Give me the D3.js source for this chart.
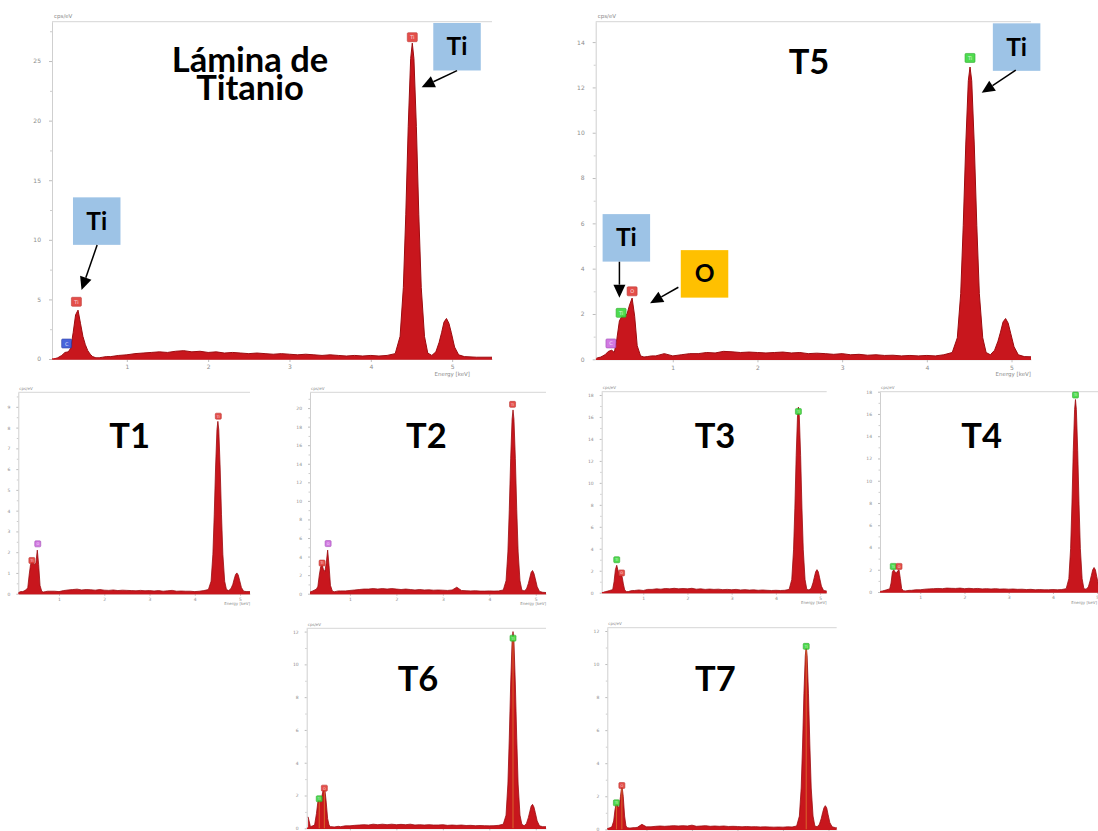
<!DOCTYPE html>
<html>
<head>
<meta charset="utf-8">
<script src="https://cdn.jsdelivr.net/npm/d3@7"></script>
<style>
  html, body { margin: 0; padding: 0; background: #ffffff; }
  svg { display: block; }
</style>
</head>
<body>
<svg id="fig" width="1098" height="831"></svg>
<script>
// ---- Shared energy axis of every EDS spectrum (keV) ----
const energyKeV = [
  0.10, 0.15, 0.20, 0.24, 0.28, 0.31, 0.34, 0.37, 0.40, 0.43,
  0.46, 0.49, 0.52, 0.55, 0.58, 0.62, 0.66, 0.70, 0.75, 0.80,
  0.90, 1.00, 1.10, 1.20, 1.30, 1.40, 1.50, 1.60, 1.70, 1.80,
  1.90, 2.00, 2.10, 2.20, 2.30, 2.40, 2.50, 2.60, 2.70, 2.80,
  2.90, 3.00, 3.10, 3.20, 3.30, 3.40, 3.50, 3.60, 3.70, 3.80,
  3.90, 4.00, 4.10, 4.20, 4.30, 4.36, 4.40, 4.43, 4.46, 4.49,
  4.51, 4.53, 4.56, 4.59, 4.62, 4.66, 4.70, 4.75, 4.80, 4.84,
  4.87, 4.90, 4.93, 4.96, 4.99, 5.03, 5.08, 5.15, 5.30, 5.50
];

// ---- Counts (cps/eV) for each sample, one value per energy above ----
const laminaTi = [
  0.00, 0.10, 0.30, 0.55, 0.60, 0.90, 2.20, 3.70, 4.10, 3.00,
  1.90, 1.20, 0.70, 0.40, 0.20, 0.10, 0.10, 0.15, 0.20, 0.20,
  0.30, 0.35, 0.45, 0.50, 0.55, 0.60, 0.55, 0.65, 0.70, 0.60,
  0.65, 0.55, 0.60, 0.50, 0.55, 0.50, 0.45, 0.50, 0.45, 0.40,
  0.45, 0.40, 0.35, 0.40, 0.35, 0.30, 0.35, 0.30, 0.25, 0.30,
  0.25, 0.30, 0.25, 0.30, 0.45, 1.90, 6.00, 12.1, 19.5, 25.2,
  26.5, 25.2, 19.5, 12.1, 6.00, 1.90, 0.50, 0.30, 0.60, 1.40,
  2.20, 3.10, 3.40, 3.00, 2.20, 1.00, 0.35, 0.20, 0.15, 0.15
];
const t5 = [
  0.05, 0.10, 0.20, 0.35, 0.40, 0.30, 0.90, 1.70, 1.90, 1.90,
  2.00, 2.40, 2.70, 1.90, 0.60, 0.15, 0.10, 0.12, 0.15, 0.15,
  0.25, 0.15, 0.20, 0.25, 0.25, 0.30, 0.28, 0.35, 0.33, 0.30,
  0.32, 0.30, 0.28, 0.30, 0.32, 0.28, 0.30, 0.25, 0.27, 0.25,
  0.22, 0.25, 0.20, 0.22, 0.18, 0.20, 0.17, 0.18, 0.15, 0.17,
  0.15, 0.17, 0.15, 0.20, 0.30, 0.95, 2.90, 5.90, 9.50, 12.3,
  12.9, 12.3, 9.50, 5.90, 2.90, 0.95, 0.30, 0.20, 0.40, 0.80,
  1.20, 1.65, 1.80, 1.60, 1.15, 0.55, 0.20, 0.12, 0.10, 0.10
];
const t1 = [
  0.05, 0.10, 0.10, 0.15, 0.20, 0.30, 0.90, 1.40, 1.60, 1.50,
  1.40, 1.50, 2.10, 1.40, 0.40, 0.10, 0.08, 0.10, 0.12, 0.12,
  0.12, 0.10, 0.15, 0.18, 0.20, 0.22, 0.18, 0.20, 0.19, 0.17,
  0.20, 0.17, 0.16, 0.18, 0.15, 0.17, 0.16, 0.15, 0.14, 0.16,
  0.14, 0.15, 0.13, 0.15, 0.12, 0.14, 0.16, 0.12, 0.13, 0.12,
  0.12, 0.10, 0.12, 0.15, 0.20, 0.60, 1.90, 3.80, 6.10, 7.90,
  8.30, 7.90, 6.10, 3.80, 1.90, 0.60, 0.20, 0.15, 0.25, 0.45,
  0.70, 0.92, 1.00, 0.90, 0.65, 0.30, 0.12, 0.10, 0.10, 0.10
];
const t2 = [
  0.00, 0.20, 0.30, 0.40, 0.50, 0.80, 2.00, 2.90, 3.10, 2.60,
  2.40, 3.30, 4.70, 3.00, 0.90, 0.30, 0.20, 0.25, 0.30, 0.30,
  0.30, 0.35, 0.40, 0.45, 0.50, 0.50, 0.55, 0.50, 0.55, 0.50,
  0.55, 0.50, 0.45, 0.50, 0.45, 0.40, 0.45, 0.40, 0.42, 0.38,
  0.40, 0.38, 0.35, 0.40, 0.70, 0.35, 0.32, 0.30, 0.32, 0.28,
  0.28, 0.30, 0.28, 0.30, 0.40, 1.40, 4.50, 9.10, 14.6, 18.8,
  19.8, 18.8, 14.6, 9.10, 4.50, 1.40, 0.40, 0.30, 0.50, 1.10,
  1.70, 2.30, 2.50, 2.20, 1.60, 0.75, 0.25, 0.15, 0.10, 0.10
];
const t3 = [
  0.05, 0.10, 0.15, 0.20, 0.25, 0.30, 1.00, 2.10, 2.50, 2.00,
  1.50, 1.60, 1.50, 0.80, 0.25, 0.10, 0.10, 0.15, 0.20, 0.20,
  0.25, 0.20, 0.30, 0.30, 0.35, 0.32, 0.38, 0.35, 0.40, 0.35,
  0.38, 0.35, 0.40, 0.32, 0.35, 0.30, 0.33, 0.30, 0.32, 0.28,
  0.30, 0.27, 0.30, 0.25, 0.28, 0.24, 0.26, 0.22, 0.25, 0.22,
  0.20, 0.22, 0.20, 0.22, 0.30, 1.20, 3.90, 7.70, 12.5, 16.1,
  16.9, 16.1, 12.5, 7.70, 3.90, 1.20, 0.30, 0.25, 0.40, 0.90,
  1.40, 1.90, 2.10, 1.90, 1.35, 0.60, 0.20, 0.15, 0.10, 0.10
];
const t4 = [
  0.05, 0.10, 0.15, 0.20, 0.25, 0.30, 0.80, 1.80, 2.00, 1.80,
  1.70, 1.90, 2.00, 1.20, 0.30, 0.12, 0.10, 0.12, 0.15, 0.15,
  0.20, 0.20, 0.25, 0.28, 0.30, 0.32, 0.30, 0.35, 0.33, 0.32,
  0.35, 0.30, 0.33, 0.30, 0.32, 0.28, 0.30, 0.27, 0.30, 0.26,
  0.28, 0.25, 0.27, 0.24, 0.25, 0.22, 0.24, 0.20, 0.22, 0.20,
  0.20, 0.22, 0.20, 0.22, 0.30, 1.20, 3.90, 7.90, 12.7, 16.4,
  17.3, 16.4, 12.7, 7.90, 3.90, 1.20, 0.30, 0.25, 0.45, 1.00,
  1.50, 2.00, 2.20, 2.00, 1.40, 0.65, 0.20, 0.15, 0.10, 0.10
];
const t6 = [
  0.70, 0.10, 0.15, 0.20, 0.90, 1.60, 1.90, 1.80, 2.00, 2.40,
  2.40, 1.60, 0.60, 0.20, 0.10, 0.10, 0.08, 0.10, 0.12, 0.10,
  0.15, 0.15, 0.18, 0.20, 0.22, 0.20, 0.25, 0.22, 0.25, 0.22,
  0.25, 0.22, 0.24, 0.22, 0.25, 0.20, 0.22, 0.20, 0.22, 0.20,
  0.20, 0.22, 0.18, 0.20, 0.18, 0.20, 0.17, 0.18, 0.16, 0.17,
  0.16, 0.15, 0.16, 0.18, 0.25, 0.80, 2.70, 5.50, 8.80, 11.4,
  12.0, 11.4, 8.80, 5.50, 2.70, 0.80, 0.25, 0.15, 0.30, 0.65,
  1.00, 1.35, 1.46, 1.30, 0.95, 0.45, 0.15, 0.10, 0.10, 0.10
];
const t7 = [
  0.05, 0.05, 0.10, 0.15, 0.50, 1.20, 1.60, 1.40, 1.30, 2.00,
  2.70, 2.00, 0.80, 0.20, 0.10, 0.08, 0.08, 0.10, 0.10, 0.12,
  0.30, 0.15, 0.15, 0.18, 0.20, 0.18, 0.20, 0.22, 0.20, 0.22,
  0.20, 0.25, 0.18, 0.20, 0.22, 0.18, 0.20, 0.18, 0.20, 0.17,
  0.18, 0.17, 0.15, 0.17, 0.15, 0.16, 0.14, 0.15, 0.14, 0.13,
  0.14, 0.13, 0.15, 0.14, 0.20, 0.80, 2.50, 5.10, 8.20, 10.5,
  11.1, 10.5, 8.20, 5.10, 2.50, 0.80, 0.20, 0.15, 0.30, 0.65,
  1.00, 1.30, 1.43, 1.30, 0.90, 0.40, 0.15, 0.10, 0.10, 0.10
];

// ---- Element identification markers: [element, keV, cps/eV, tone] ----
const laminaMarks = [["C", 0.26, 1.3, "blue"], ["Ti", 0.38, 4.8, "red"], ["Ti", 4.51, 27.0, "red"]];
const t5Marks = [["C", 0.27, 0.7, "magenta"], ["Ti", 0.39, 2.05, "green"], ["O", 0.52, 3.0, "red"], ["Ti", 4.51, 13.3, "green"]];
const t1Marks = [["Ti", 0.40, 1.6, "red"], ["O", 0.53, 2.4, "magenta"], ["Ti", 4.52, 8.55, "red"]];
const t2Marks = [["Ti", 0.40, 3.3, "red"], ["O", 0.53, 5.4, "magenta"], ["Ti", 4.50, 20.4, "red"]];
const t3Marks = [["Ti", 0.40, 3.0, "green"], ["O", 0.51, 1.8, "red"], ["Ti", 4.51, 16.5, "green"]];
const t4Marks = [["Ti", 0.39, 2.3, "green"], ["O", 0.52, 2.3, "red"], ["Ti", 4.51, 17.7, "green"]];
const t6Marks = [["Ti", 0.34, 1.8, "green"], ["O", 0.45, 2.45, "red"], ["Ti", 4.51, 11.6, "green"]];
const t7Marks = [["Ti", 0.34, 1.6, "green"], ["O", 0.46, 2.65, "red"], ["Ti", 4.51, 11.07, "green"]];

// ---- Y tick steps and x tick labels ----
const xTickLabels = [1, 2, 3, 4, 5];
const yTickSteps = { lamina: 5, t5: 2, t1: 1, t2: 2, t3: 2, t4: 2, t6: 2, t7: 2 };

// ---- Callouts (label boxes with arrows), anchored in data units ----
const callouts = [
  { panel: "lamina", text: "Ti", tone: "blue",   box: [5.06, 26.2],  from: [5.06, 24.2], to: [4.625, 22.8] },
  { panel: "lamina", text: "Ti", tone: "blue",   box: [0.63, 11.57], from: [0.635, 9.56], to: [0.443, 5.78] },
  { panel: "t5",     text: "Ti", tone: "blue",   box: [5.06, 13.78], from: [5.05, 12.76], to: [4.648, 11.76] },
  { panel: "t5",     text: "Ti", tone: "blue",   box: [0.452, 5.36], from: [0.37, 4.305], to: [0.37, 2.72] },
  { panel: "t5",     text: "O",  tone: "yellow", box: [1.375, 3.77], from: [1.066, 3.18], to: [0.732, 2.47] }
];

// ---- Panel layout (pixels); the bottom row has its energy axis below the page edge ----
const layout = [
  { id: "lamina", counts: laminaTi, marks: laminaMarks, title: ["Lámina de", "Titanio"], big: true,
    left: 52, right: 492, top: 21.7, bottom: 359, xMin: 0.08, xMax: 5.49, yMax: 28.3,
    titleX: 250, titleY: 71.7, unitEnd: 470 },
  { id: "t5", counts: t5, marks: t5Marks, title: ["T5"], big: true,
    left: 595.7, right: 1031, top: 21.7, bottom: 359.3, xMin: 0.09, xMax: 5.23, yMax: 14.9,
    titleX: 809, titleY: 74, unitEnd: 1031 },
  { id: "t1", counts: t1, marks: t1Marks, title: ["T1"],
    left: 18.3, right: 250, top: 392.3, bottom: 593.7, xMin: 0.10, xMax: 5.22, yMax: 9.7,
    titleX: 129.7, titleY: 448.3, unitEnd: 250 },
  { id: "t2", counts: t2, marks: t2Marks, title: ["T2"],
    left: 310, right: 546, top: 392.3, bottom: 593.7, xMin: 0.14, xMax: 5.22, yMax: 21.7,
    titleX: 426.3, titleY: 448.3, unitEnd: 546 },
  { id: "t3", counts: t3, marks: t3Marks, title: ["T3"],
    left: 601.7, right: 826.7, top: 391.7, bottom: 592.7, xMin: 0.06, xMax: 5.15, yMax: 18.3,
    titleX: 715, titleY: 448.3, unitEnd: 826.7 },
  { id: "t4", counts: t4, marks: t4Marks, title: ["T4"],
    left: 880, right: 1106, top: 391.7, bottom: 592, xMin: 0.09, xMax: 5.20, yMax: 18.0,
    titleX: 981.7, titleY: 448.3, unitEnd: 1097 },
  { id: "t6", counts: t6, marks: t6Marks, title: ["T6"], klm: true, noXLabels: true,
    left: 306.7, right: 546, top: 628.3, bottom: 828.3, xMin: 0.07, xMax: 5.22, yMax: 12.2,
    titleX: 418, titleY: 691 },
  { id: "t7", counts: t7, marks: t7Marks, title: ["T7"], klm: true, noXLabels: true,
    left: 607.3, right: 836.7, top: 627.7, bottom: 829.3, xMin: 0.14, xMax: 5.18, yMax: 12.2,
    titleX: 715.3, titleY: 691 }
];

const toneFill = { red: "#e2403b", green: "#3fd83f", blue: "#3a57d8", magenta: "#cf6ee0" };
const toneEdge = { red: "#b92a26", green: "#25a525", blue: "#2536a0", magenta: "#9b43b0" };
const boxFill = { blue: "#9dc3e6", yellow: "#ffc000" };
const SPEC_FILL = "#c8161d";
const SPEC_EDGE = "#9c0c10";
const TITLE_FONT = "Lato, 'Open Sans', 'DejaVu Sans', sans-serif";
const AXIS_FONT = "'DejaVu Sans', sans-serif";

const svg = d3.select("#fig");
svg.append("rect").attr("width", 1098).attr("height", 831).attr("fill", "#ffffff");
const defs = svg.append("defs");
const scales = {};

layout.forEach(cfg => {
  const x = d3.scaleLinear().domain([cfg.xMin, cfg.xMax]).range([cfg.left, cfg.right]);
  const y = d3.scaleLinear().domain([0, cfg.yMax]).range([cfg.bottom, cfg.top]);
  scales[cfg.id] = { x, y };
  const g = svg.append("g").attr("class", "panel-" + cfg.id);
  const fs = cfg.big ? 6 : 4.5;
  const step = yTickSteps[cfg.id];

  const clipId = "clip-" + cfg.id;
  defs.append("clipPath").attr("id", clipId)
    .append("rect")
    .attr("x", cfg.left).attr("y", cfg.top - 3)
    .attr("width", cfg.right - cfg.left).attr("height", cfg.bottom - cfg.top + 4);

  // frame line along the top of the plot area
  g.append("line")
    .attr("x1", cfg.left).attr("x2", cfg.right)
    .attr("y1", cfg.top).attr("y2", cfg.top)
    .attr("stroke", "#d6d6d6").attr("stroke-width", 1);

  // y axis: major ticks with labels and minor ticks between them
  const majors = d3.range(0, cfg.yMax + 1e-9, step);
  const minors = d3.range(step / 2, cfg.yMax, step);
  const yAxisG = g.append("g").attr("transform", `translate(${cfg.left},0)`)
    .call(d3.axisLeft(y).tickValues(majors).tickSize(cfg.big ? 3 : 2).tickSizeOuter(0)
      .tickPadding(cfg.big ? 8 : 6).tickFormat(d3.format("d")));
  yAxisG.select(".domain").attr("stroke", "#cfcfcf");
  yAxisG.selectAll(".tick line").attr("stroke", "#bdbdbd");
  yAxisG.selectAll("text").attr("fill", "#8c8c8c").attr("font-size", fs).attr("font-family", AXIS_FONT);
  const yMinor = g.append("g").attr("transform", `translate(${cfg.left},0)`)
    .call(d3.axisLeft(y).tickValues(minors).tickSize(cfg.big ? 2 : 1.5).tickSizeOuter(0).tickFormat(""));
  yMinor.select(".domain").remove();
  yMinor.selectAll(".tick line").attr("stroke", "#cdcdcd");

  // x axis ticks (labels only where the axis lies inside the page)
  const xVals = xTickLabels.filter(v => v >= cfg.xMin && v <= cfg.xMax);
  const xAxisG = g.append("g").attr("transform", `translate(0,${cfg.bottom})`)
    .call(d3.axisBottom(x).tickValues(xVals).tickSize(cfg.big ? 3 : 2).tickSizeOuter(0)
      .tickPadding(cfg.big ? 3 : 2).tickFormat(cfg.noXLabels ? "" : d3.format("d")));
  xAxisG.select(".domain").attr("stroke", "#d0d0d0");
  xAxisG.selectAll(".tick line").attr("stroke", "#bdbdbd");
  xAxisG.selectAll("text").attr("fill", "#8c8c8c").attr("font-size", fs).attr("font-family", AXIS_FONT);

  // axis units
  g.append("text").attr("x", cfg.left + (cfg.big ? 2 : 1)).attr("y", cfg.top - (cfg.big ? 4 : 2.5))
    .attr("font-size", cfg.big ? 5.5 : 4).attr("fill", "#8c8c8c")
    .attr("font-family", AXIS_FONT).text("cps/eV");
  if (!cfg.noXLabels) {
    g.append("text").attr("x", cfg.unitEnd).attr("y", cfg.bottom + (cfg.big ? 17 : 11.5))
      .attr("text-anchor", "end")
      .attr("font-size", cfg.big ? 5.5 : 4).attr("fill", "#8c8c8c")
      .attr("font-family", AXIS_FONT).text("Energy [keV]");
  }

  // spectrum
  const pts = energyKeV.map((e, i) => [e, cfg.counts[i]]);
  const area = d3.area().x(d => x(d[0])).y0(y(0)).y1(d => y(d[1]));
  const line = d3.line().x(d => x(d[0])).y(d => y(d[1]));
  const spec = g.append("g").attr("clip-path", `url(#${clipId})`);
  spec.append("path").datum(pts).attr("d", area).attr("fill", SPEC_FILL);
  spec.append("path").datum(pts).attr("d", line)
    .attr("fill", "none").attr("stroke", SPEC_EDGE).attr("stroke-width", cfg.big ? 1 : 0.8)
    .attr("stroke-linejoin", "round");
  spec.append("line").attr("x1", cfg.left).attr("x2", cfg.right)
    .attr("y1", y(0)).attr("y2", y(0))
    .attr("stroke", SPEC_FILL).attr("stroke-width", 1.4);

  // KLM guide lines at identified peaks
  if (cfg.klm) {
    spec.selectAll("line.klm").data(cfg.marks).join("line").attr("class", "klm")
      .attr("x1", d => x(d[1])).attr("x2", d => x(d[1]))
      .attr("y1", y(0)).attr("y2", d => y(d[2]))
      .attr("stroke", "#e8a63a").attr("stroke-width", 0.8).attr("opacity", 0.7);
  }

  // element markers
  const mw = cfg.big ? 10 : 6, mh = cfg.big ? 9 : 6;
  const mk = g.selectAll("g.mark").data(cfg.marks).join("g").attr("class", "mark")
    .attr("transform", d => `translate(${x(d[1])},${y(d[2])})`);
  mk.append("rect").attr("x", -mw / 2).attr("y", -mh / 2).attr("width", mw).attr("height", mh)
    .attr("rx", 1).attr("fill", d => toneFill[d[3]]).attr("stroke", d => toneEdge[d[3]])
    .attr("stroke-width", 0.6).attr("opacity", 0.92);
  mk.append("text").attr("text-anchor", "middle").attr("dy", cfg.big ? 2 : 1.4)
    .attr("font-size", cfg.big ? 5 : 3.5).attr("fill", "#ffffff").attr("opacity", 0.8)
    .attr("font-family", AXIS_FONT).text(d => d[0]);

  // panel title
  const tt = g.append("text").attr("x", cfg.titleX).attr("y", cfg.titleY)
    .attr("text-anchor", "middle").attr("font-family", TITLE_FONT)
    .attr("font-weight", 700).attr("font-size", 34.5).attr("fill", "#000000");
  cfg.title.forEach((t, i) => {
    tt.append("tspan").attr("x", cfg.titleX).attr("dy", i === 0 ? 0 : 28.3).text(t);
  });
});

// ---- Callouts ----
const BOX = 47.5;
function arrow(g, x1, y1, x2, y2) {
  const ang = Math.atan2(y2 - y1, x2 - x1);
  const L = 13, W = 6;
  const bx = x2 - L * Math.cos(ang), by = y2 - L * Math.sin(ang);
  g.append("line").attr("x1", x1).attr("y1", y1).attr("x2", bx).attr("y2", by)
    .attr("stroke", "#000").attr("stroke-width", 1.5);
  const px = -Math.sin(ang) * W, py = Math.cos(ang) * W;
  g.append("path")
    .attr("d", `M${x2},${y2}L${bx + px},${by + py}L${bx - px},${by - py}Z`)
    .attr("fill", "#000");
}
const cg = svg.append("g").attr("class", "callouts");
callouts.forEach(c => {
  const { x, y } = scales[c.panel];
  const cx = x(c.box[0]), cy = y(c.box[1]);
  cg.append("rect").attr("x", cx - BOX / 2).attr("y", cy - BOX / 2)
    .attr("width", BOX).attr("height", BOX).attr("fill", boxFill[c.tone]);
  cg.append("text").attr("x", cx).attr("y", cy + 8.5).attr("text-anchor", "middle")
    .attr("font-family", TITLE_FONT).attr("font-weight", 700).attr("font-size", 24.5)
    .attr("fill", "#000").text(c.text);
  arrow(cg, x(c.from[0]), y(c.from[1]), x(c.to[0]), y(c.to[1]));
});
</script>
</body>
</html>
